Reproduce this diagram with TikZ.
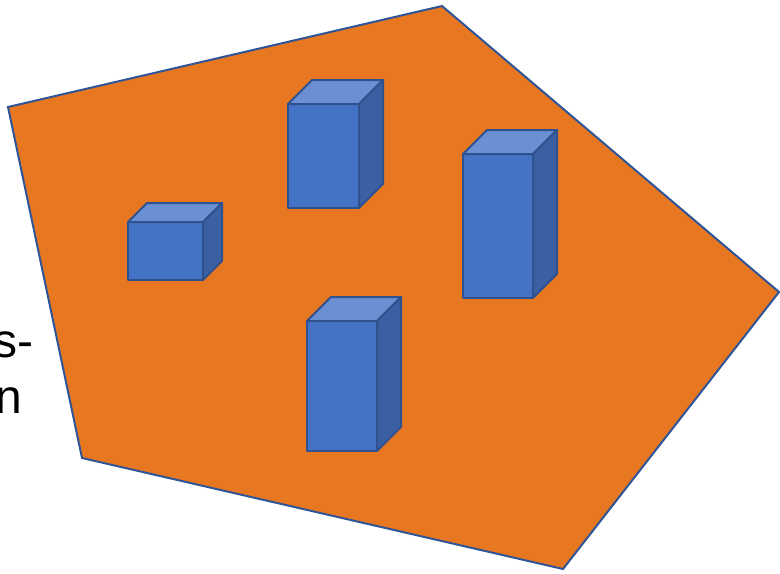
\documentclass[tikz,border=0pt]{standalone}
\usepackage{fontspec}
\setmainfont{Liberation Sans}
\definecolor{plotorange}{HTML}{E87722}
\definecolor{edgeblue}{HTML}{2F5597}
\definecolor{boxfront}{HTML}{4472C4}
\definecolor{boxtop}{HTML}{6A8FD3}
\definecolor{boxside}{HTML}{3A5FA3}
\definecolor{boxedge}{HTML}{2F528F}
\tikzset{
  plot/.style={fill=plotorange, draw=edgeblue, line width=1pt, line join=miter},
  face/.style={draw=boxedge, line width=1pt, line join=round},
  label/.style={font=\fontsize{24pt}{28pt}\selectfont, inner sep=0pt, anchor=base west}
}
% \blockbox{left}{top}{width}{height}{depth}
\newcommand{\blockbox}[5]{%
  \fill[boxfront] (#1,#2) rectangle ++(#3,#4);
  \filldraw[face, fill=boxtop] (#1,#2) -- ++(#5,-#5) -- ++(#3,0) -- ++(-#5,#5) -- cycle;
  \filldraw[face, fill=boxside] (#1+#3,#2) -- ++(#5,-#5) -- ++(0,#4) -- ++(-#5,#5) -- cycle;
  \draw[face] (#1,#2) rectangle ++(#3,#4);
}
\begin{document}
\begin{tikzpicture}[x=0.5pt, y=-0.5pt]
  \useasboundingbox (0,0) rectangle (780,573);
  \clip (0,0) rectangle (780,573);
  % text partly outside the frame
  \node[label] (t1) at (-7,357) {s-};
  \node[label] (t2) at (-5,413) {n};
  % ground plot
  \filldraw[plot] (8,107) -- (442,6) -- (779,292) -- (563,569) -- (82,458) -- cycle;
  % buildings
  \blockbox{128}{222}{75}{58}{19}
  \blockbox{288}{104}{71}{104}{24}
  \blockbox{463}{154}{70}{144}{24}
  \blockbox{307}{321}{70}{130}{24}
\end{tikzpicture}
\end{document}
